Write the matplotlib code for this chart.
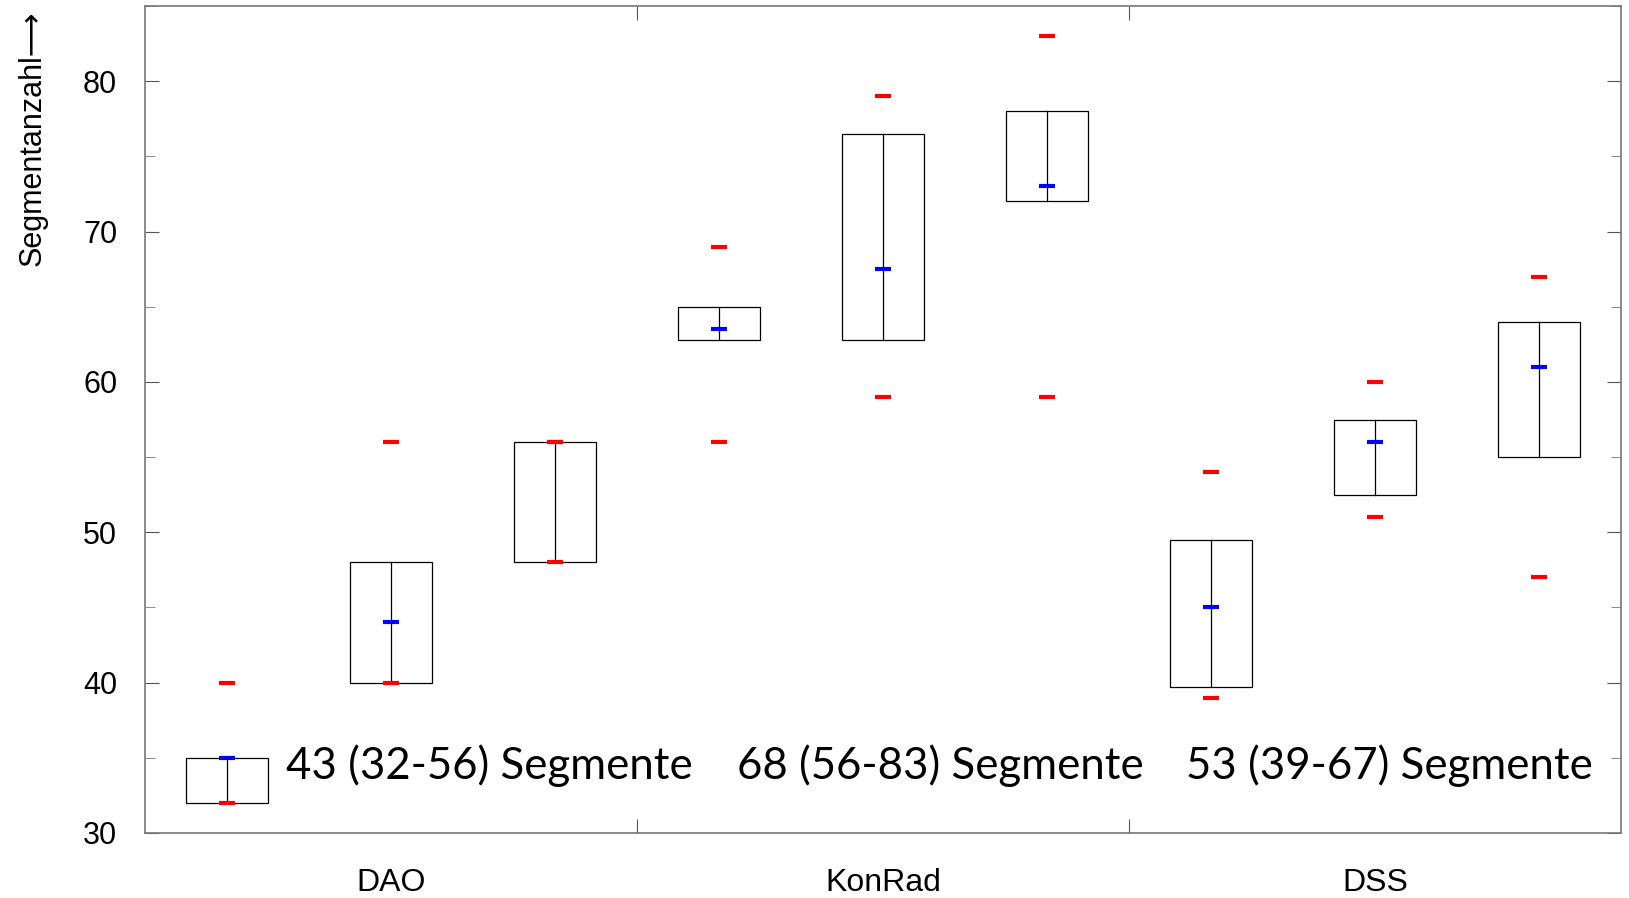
import matplotlib
matplotlib.use('Agg')
import matplotlib.pyplot as plt
import numpy as np

# data
groups = ['DAO', 'KonRad', 'DSS']
box_min = [32, 40, 48, 56, 59, 59, 39, 51, 47]
box_q1 = [32, 40, 48, 62.8, 62.8, 72, 39.7, 52.5, 55]
box_median = [35, 44, 56, 63.5, 67.5, 73, 45, 56, 61]
box_q3 = [35, 48, 56, 65, 76.5, 78, 49.5, 57.5, 64]
box_max = [40, 56, 56, 69, 79, 83, 54, 60, 67]
summary_text = ['43 (32-56) Segmente', '68 (56-83) Segmente', '53 (39-67) Segmente']
summary_x = [0.287, 1.203, 2.116]

plt.rcParams['font.family'] = ['Liberation Sans', 'DejaVu Sans']

fig = plt.figure(figsize=(16.29, 8.98), dpi=100)
ax = fig.add_axes([0.089, 0.0724, 0.906, 0.9209])

positions = []
for g in range(len(groups)):
    for k in range(3):
        positions.append(g + (2 * k + 1) / 6.0)
positions = np.array(positions)

w = 1.0 / 6.0
mw = 0.016
for i, x in enumerate(positions):
    ax.add_patch(plt.Rectangle((x - w / 2, box_q1[i]), w, box_q3[i] - box_q1[i],
                               fill=False, edgecolor='black', lw=0.9, zorder=2))
    ax.plot([x, x], [box_q1[i], box_q3[i]], color='black', lw=0.9, zorder=2)
    ax.hlines(box_median[i], x - mw, x + mw, colors='blue', lw=3, zorder=3)
    ax.hlines([box_min[i], box_max[i]], x - mw, x + mw, colors='red', lw=3, zorder=4)

for t, x in zip(summary_text, summary_x):
    ax.text(x, 34.5, t, ha='left', va='center', fontsize=31.5,
            family=['Lato', 'DejaVu Sans'])

ax.set_xlim(0, 3)
ax.set_ylim(30, 85)
ax.set_xticks([1, 2])
ax.set_xticklabels([])
ax.set_xticks([0.5, 1.5, 2.5], minor=True)
ax.set_xticklabels(groups, minor=True)
ax.tick_params(axis='x', which='major', direction='in', length=10, top=True, color='#555555')
ax.tick_params(axis='x', which='minor', length=0, pad=25, labelsize=23)

ax.set_yticks(np.arange(30, 81, 10))
ax.set_yticks(np.arange(35, 86, 10), minor=True)
ax.tick_params(axis='y', which='major', direction='in', length=10, right=True,
               color='#555555', labelsize=22, pad=20)
ax.tick_params(axis='y', which='minor', direction='in', length=7.5, right=True, color='#777777')

for s in ax.spines.values():
    s.set_color('#777777')
    s.set_linewidth(1.2)

ax.set_ylabel('Segmentanzahl\u27f6', fontsize=22, loc='top',
              family=['Liberation Sans', 'DejaVu Sans'])
ax.yaxis.set_label_coords(-0.066, 0.995)

plt.savefig('out.png', dpi=100)
